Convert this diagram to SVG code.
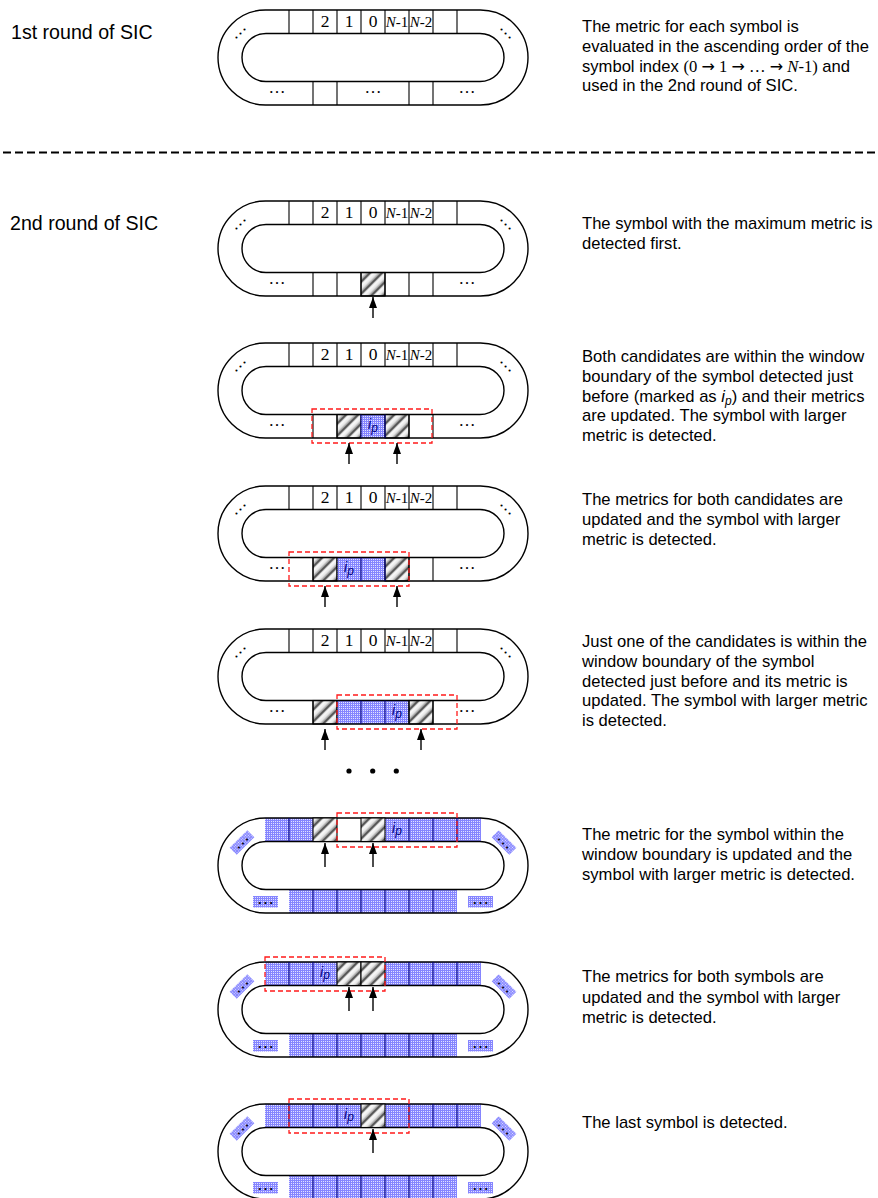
<svg xmlns="http://www.w3.org/2000/svg" width="878" height="1198" viewBox="0 0 878 1198">
<style>
  .ring{fill:none;stroke:#000;stroke-width:1.4}
  .cl{stroke:#000;stroke-width:1.1;fill:none}
  .nv{stroke:#000080;stroke-width:1.1;fill:none}
  .num{font-family:"Liberation Serif","Times New Roman",serif;font-size:17.5px;text-anchor:middle;fill:#000}
  .nn{font-family:"Liberation Serif","Times New Roman",serif;font-size:15px;text-anchor:middle;fill:#000}
  .dots{font-family:"Liberation Serif","Times New Roman",serif;font-size:17px;text-anchor:middle;fill:#000}
  .desc{font-family:"Liberation Sans",Arial,sans-serif;font-size:16.6px;fill:#000}
  .head{font-family:"Liberation Sans",Arial,sans-serif;font-size:19.6px;fill:#000}
  .serif{font-family:"Liberation Serif","Times New Roman",serif}
  .to{font-family:"DejaVu Sans",sans-serif;font-size:16px}
  .win{fill:none;stroke:#ff1a1a;stroke-width:1.3;stroke-dasharray:5 3}
  .blue{fill:url(#grid)}
  .hat{fill:url(#hatch);stroke:#000;stroke-width:1.1}
  .ip{font-family:"Liberation Sans",Arial,sans-serif;font-style:italic;font-size:14px;fill:#000080;text-anchor:middle}
  .arr{stroke:#000;stroke-width:1.4;fill:none;marker-end:url(#ah)}
</style>
<defs>
  <!-- fine blue grid fill for already-processed symbols -->
  <pattern id="grid" patternUnits="userSpaceOnUse" width="2" height="2">
    <rect width="2" height="2" fill="#e2e2ff"/>
    <rect width="2" height="1" fill="#8585ff"/>
    <rect width="1" height="2" fill="#8585ff"/>
  </pattern>
  <!-- shaded diagonal hatch for candidate symbols -->
  <linearGradient id="hg" x1="0" y1="0" x2="1" y2="0">
    <stop offset="0" stop-color="#fff"/>
    <stop offset="0.4" stop-color="#e4e4e4"/>
    <stop offset="0.66" stop-color="#8a8a8a"/>
    <stop offset="0.78" stop-color="#111"/>
    <stop offset="0.87" stop-color="#9a9a9a"/>
    <stop offset="1" stop-color="#fff"/>
  </linearGradient>
  <pattern id="hatch" patternUnits="userSpaceOnUse" width="8.5" height="8.5" patternTransform="rotate(45)">
    <rect width="8.5" height="8.5" fill="url(#hg)"/>
  </pattern>
  <marker id="ah" markerUnits="userSpaceOnUse" markerWidth="11" markerHeight="8" refX="11" refY="4" orient="auto">
    <path d="M0,0 L11,4 L0,8 z" fill="#000"/>
  </marker>

  <!-- stadium-shaped symbol ring -->
  <g id="outline">
    <rect class="ring" x="218" y="0" width="310" height="95" rx="47.5"/>
    <rect class="ring" x="242" y="23.5" width="262" height="48" rx="24"/>
  </g>

  <!-- labelled top row of an unprocessed ring -->
  <g id="topRow">
    <path class="cl" d="M289,0V23.5M313,0V23.5M337,0V23.5M361,0V23.5M385,0V23.5M409,0V23.5M433,0V23.5M457,0V23.5"/>
    <text class="num" x="325" y="17">2</text>
    <text class="num" x="349" y="17">1</text>
    <text class="num" x="373" y="17">0</text>
    <text class="nn" x="397" y="17"><tspan font-style="italic">N</tspan>-1</text>
    <text class="nn" x="421" y="17"><tspan font-style="italic">N</tspan>-2</text>
    <text class="dots" transform="translate(240,23) rotate(-45)" y="1.5">…</text>
    <text class="dots" transform="translate(506,23) rotate(45)" y="1.5">…</text>
    <text class="dots" x="277" y="82.5">…</text>
    <text class="dots" x="467" y="82.5">…</text>
  </g>

  <!-- bottom row of a fully processed ring -->
  <g id="blueBase">
    <rect class="blue" x="289" y="71.5" width="168" height="23.5"/>
    <path class="nv" d="M313,71.5V95M337,71.5V95M361,71.5V95M385,71.5V95M409,71.5V95M433,71.5V95"/>
    <rect class="blue" x="253" y="78" width="25" height="11.5"/>
    <rect class="blue" x="468" y="78" width="25" height="11.5"/>
    <text class="dots" x="265.5" y="85.5">…</text>
    <text class="dots" x="480.5" y="85.5">…</text>
    <g transform="translate(242,24.5) rotate(-45)">
      <rect class="blue" x="-12.5" y="-5" width="25" height="10"/>
      <text class="dots" y="2">…</text>
    </g>
    <g transform="translate(504,24.5) rotate(45)">
      <rect class="blue" x="-12.5" y="-5" width="25" height="10"/>
      <text class="dots" y="2">…</text>
    </g>
  </g>
</defs>

<rect width="878" height="1198" fill="#fff"/>

<!-- section headings and separator -->
<g id="headings">
  <text class="head" x="11" y="39">1st round of SIC</text>
  <line x1="3" y1="152.5" x2="878" y2="152.5" stroke="#000" stroke-width="2.2" stroke-dasharray="8 4"/>
  <text class="head" x="10" y="230">2nd round of SIC</text>
</g>

<!-- round 1 ring -->
<g id="ring1" transform="translate(0,10)">
  <use href="#outline"/>
  <use href="#topRow"/>
  <path class="cl" d="M313,71.5V95M337,71.5V95M409,71.5V95M433,71.5V95"/>
  <text class="dots" x="373" y="82.5">…</text>
</g>

<!-- first detection -->
<g id="ring2" transform="translate(0,201)">
  <rect class="hat" x="361" y="71.5" width="24" height="23.5"/>
  <use href="#outline"/>
  <use href="#topRow"/>
  <path class="cl" d="M313,71.5V95M337,71.5V95M361,71.5V95M385,71.5V95M409,71.5V95M433,71.5V95"/>
</g>

<g id="ring3" transform="translate(0,343)">
  <rect class="hat" x="337" y="71.5" width="24" height="23.5"/>
  <rect class="blue" x="361" y="71.5" width="24" height="23.5"/>
  <rect class="hat" x="385" y="71.5" width="24" height="23.5"/>
  <use href="#outline"/>
  <use href="#topRow"/>
  <path class="cl" d="M313,71.5V95M337,71.5V95M409,71.5V95M433,71.5V95"/>
  <path class="nv" d="M361,71.5V95M385,71.5V95"/>
  <text class="ip" x="373" y="86">i<tspan font-size="12" dy="2.5">p</tspan></text>
  <rect class="win" x="312" y="66" width="120" height="34"/>
</g>

<g id="ring4" transform="translate(0,486)">
  <rect class="hat" x="313" y="71.5" width="24" height="23.5"/>
  <rect class="blue" x="337" y="71.5" width="48" height="23.5"/>
  <rect class="hat" x="385" y="71.5" width="24" height="23.5"/>
  <use href="#outline"/>
  <use href="#topRow"/>
  <path class="cl" d="M313,71.5V95M337,71.5V95M409,71.5V95M433,71.5V95"/>
  <path class="nv" d="M361,71.5V95M385,71.5V95"/>
  <text class="ip" x="349" y="86">i<tspan font-size="12" dy="2.5">p</tspan></text>
  <rect class="win" x="289" y="66" width="120" height="34"/>
</g>

<g id="ring5" transform="translate(0,629)">
  <rect class="hat" x="313" y="71.5" width="24" height="23.5"/>
  <rect class="blue" x="337" y="71.5" width="72" height="23.5"/>
  <rect class="hat" x="409" y="71.5" width="24" height="23.5"/>
  <use href="#outline"/>
  <use href="#topRow"/>
  <path class="cl" d="M313,71.5V95M337,71.5V95M409,71.5V95M433,71.5V95"/>
  <path class="nv" d="M361,71.5V95M385,71.5V95"/>
  <text class="ip" x="397" y="86">i<tspan font-size="12" dy="2.5">p</tspan></text>
  <rect class="win" x="337" y="66" width="120" height="34"/>
</g>

<!-- skipped steps -->
<g id="gap">
  <circle cx="349" cy="771" r="2.6"/>
  <circle cx="372.7" cy="771" r="2.6"/>
  <circle cx="396.3" cy="771" r="2.6"/>
</g>

<g id="ring6" transform="translate(0,818)">
  <rect class="blue" x="265" y="0" width="48" height="23.5"/>
  <rect class="blue" x="385" y="0" width="96" height="23.5"/>
  <use href="#blueBase"/>
  <use href="#outline"/>
  <rect class="hat" x="313" y="0" width="24" height="23.5"/>
  <rect class="hat" x="361" y="0" width="24" height="23.5"/>
  <path class="nv" d="M289,0V23.5M409,0V23.5M433,0V23.5M457,0V23.5"/>
  <text class="ip" x="397" y="14.5">i<tspan font-size="12" dy="2.5">p</tspan></text>
  <rect class="win" x="337" y="-5" width="120" height="34"/>
</g>

<g id="ring7" transform="translate(0,962)">
  <rect class="blue" x="265" y="0" width="72" height="23.5"/>
  <rect class="blue" x="385" y="0" width="96" height="23.5"/>
  <use href="#blueBase"/>
  <use href="#outline"/>
  <rect class="hat" x="337" y="0" width="24" height="23.5"/>
  <rect class="hat" x="361" y="0" width="24" height="23.5"/>
  <path class="nv" d="M289,0V23.5M313,0V23.5M409,0V23.5M433,0V23.5M457,0V23.5"/>
  <text class="ip" x="325" y="14.5">i<tspan font-size="12" dy="2.5">p</tspan></text>
  <rect class="win" x="265" y="-5" width="120" height="34"/>
</g>

<g id="ring8" transform="translate(0,1104)">
  <rect class="blue" x="265" y="0" width="96" height="23.5"/>
  <rect class="blue" x="385" y="0" width="96" height="23.5"/>
  <use href="#blueBase"/>
  <use href="#outline"/>
  <rect class="hat" x="361" y="0" width="24" height="23.5"/>
  <path class="nv" d="M289,0V23.5M313,0V23.5M337,0V23.5M409,0V23.5M433,0V23.5M457,0V23.5"/>
  <text class="ip" x="349" y="14.5">i<tspan font-size="12" dy="2.5">p</tspan></text>
  <rect class="win" x="289" y="-5" width="120" height="34"/>
</g>

<!-- candidate pointers -->
<g id="connectors">
  <line class="arr" x1="373" y1="318" x2="373" y2="297"/>
  <line class="arr" x1="349" y1="464" x2="349" y2="443"/>
  <line class="arr" x1="397" y1="464" x2="397" y2="443"/>
  <line class="arr" x1="325" y1="607" x2="325" y2="586"/>
  <line class="arr" x1="397" y1="607" x2="397" y2="586"/>
  <line class="arr" x1="325" y1="750" x2="325" y2="729"/>
  <line class="arr" x1="421" y1="750" x2="421" y2="729"/>
  <line class="arr" x1="325" y1="867" x2="325" y2="843"/>
  <line class="arr" x1="373" y1="867" x2="373" y2="843"/>
  <line class="arr" x1="349" y1="1011" x2="349" y2="987"/>
  <line class="arr" x1="373" y1="1011" x2="373" y2="987"/>
  <line class="arr" x1="373" y1="1153" x2="373" y2="1129"/>
</g>

<!-- step descriptions -->
<g id="desc1" class="desc">
  <text x="582" y="32">The metric for each symbol is</text>
  <text x="582" y="52">evaluated in the ascending order of the</text>
  <text x="582" y="72">symbol index <tspan class="serif">(0 <tspan class="to">→</tspan> 1 <tspan class="to">→</tspan> … <tspan class="to">→</tspan> <tspan font-style="italic">N</tspan>-1)</tspan> and</text>
  <text x="582" y="91">used in the 2nd round of SIC.</text>
</g>
<g id="desc2" class="desc">
  <text x="582" y="229">The symbol with the maximum metric is</text>
  <text x="582" y="249">detected first.</text>
</g>
<g id="desc3" class="desc">
  <text x="582" y="362">Both candidates are within the window</text>
  <text x="582" y="382">boundary of the symbol detected just</text>
  <text x="582" y="402">before (marked as <tspan font-style="italic">i</tspan><tspan font-style="italic" font-size="12" dy="3">p</tspan><tspan dy="-3">) and their metrics</tspan></text>
  <text x="582" y="421">are updated. The symbol with larger</text>
  <text x="582" y="441">metric is detected.</text>
</g>
<g id="desc4" class="desc">
  <text x="582" y="505">The metrics for both candidates are</text>
  <text x="582" y="525">updated and the symbol with larger</text>
  <text x="582" y="545">metric is detected.</text>
</g>
<g id="desc5" class="desc">
  <text x="582" y="647">Just one of the candidates is within the</text>
  <text x="582" y="667">window boundary of the symbol</text>
  <text x="582" y="687">detected just before and its metric is</text>
  <text x="582" y="706">updated. The symbol with larger metric</text>
  <text x="582" y="726">is detected.</text>
</g>
<g id="desc6" class="desc">
  <text x="582" y="840">The metric for the symbol within the</text>
  <text x="582" y="860">window boundary is updated and the</text>
  <text x="582" y="880">symbol with larger metric is detected.</text>
</g>
<g id="desc7" class="desc">
  <text x="582" y="982">The metrics for both symbols are</text>
  <text x="582" y="1003">updated and the symbol with larger</text>
  <text x="582" y="1023">metric is detected.</text>
</g>
<g id="desc8" class="desc">
  <text x="582" y="1128">The last symbol is detected.</text>
</g>
</svg>
